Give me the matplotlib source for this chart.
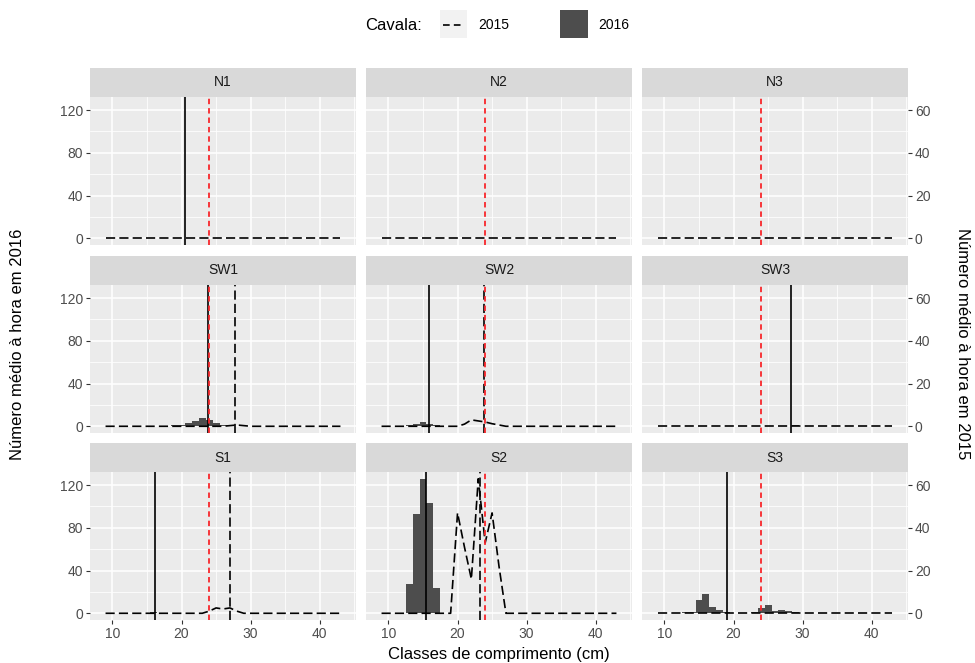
import numpy as np
import matplotlib.pyplot as plt
from matplotlib.patches import Rectangle
from matplotlib.lines import Line2D

plt.rcParams['font.family'] = ['Liberation Sans', 'DejaVu Sans']

# Length classes (cm)
classes = np.arange(9, 44)
panels = ["N1", "N2", "N3", "SW1", "SW2", "SW3", "S1", "S2", "S3"]

# Mean number per hour in 2016 by length class (only non-zero classes)
n1_2016 = {20: 0.4, 21: 0.4}
n2_2016 = {}
n3_2016 = {}
sw1_2016 = {18: 0.5, 19: 1, 20: 1.5, 21: 3, 22: 4.5, 23: 7.5, 24: 6, 25: 3, 26: 1.5, 27: 1, 28: 0.5}
sw2_2016 = {13: 1, 14: 2.5, 15: 4, 16: 2.5, 17: 1, 18: 0.5}
sw3_2016 = {28: 0.5, 29: 0.8, 30: 0.4}
s1_2016 = {15: 0.5, 16: 1.2, 17: 0.5}
s2_2016 = {13: 27, 14: 93, 15: 126, 16: 103, 17: 24}
s3_2016 = {12: 0.5, 13: 0.8, 14: 1, 15: 12.5, 16: 18, 17: 6, 18: 3, 19: 1, 20: 0.5,
           22: 0.5, 23: 0.8, 24: 5, 25: 7.5, 26: 2, 27: 3.5, 28: 2.5, 29: 1, 30: 0.5}

# Mean number per hour in 2015 by length class (right axis)
n1_2015 = {}
n2_2015 = {}
n3_2015 = {}
sw1_2015 = {27: 0.3, 28: 0.6, 29: 0.3}
sw2_2015 = {21: 1, 22: 3, 23: 2.5, 24: 2, 25: 1.2, 26: 0.6}
sw3_2015 = {}
s1_2015 = {24: 1, 25: 2.5, 26: 2, 27: 2.5, 28: 1}
s2_2015 = {20: 47, 21: 31, 22: 16, 23: 63, 24: 33, 25: 47, 26: 22}
s3_2015 = {}

# Mean length per panel (nan = no catch)
mean_2016 = [20.5, np.nan, np.nan, 23.8, 15.9, 28.3, 16.2, 15.5, 19.1]
mean_2015 = [np.nan, np.nan, np.nan, 27.8, 23.8, np.nan, 27.0, 23.2, np.nan]
min_size = 24  # minimum landing size

data_2016 = [n1_2016, n2_2016, n3_2016, sw1_2016, sw2_2016, sw3_2016, s1_2016, s2_2016, s3_2016]
data_2015 = [n1_2015, n2_2015, n3_2015, sw1_2015, sw2_2015, sw3_2015, s1_2015, s2_2015, s3_2015]

sec_scale = 2  # 2015 plotted on the left scale x2


def full(d):
    return np.array([d.get(c, 0.0) for c in classes], dtype=float)


y16 = [full(d) for d in data_2016]
y15 = [full(d) * sec_scale for d in data_2015]

ymax = max(max(v.max() for v in y16), max(v.max() for v in y15))
ylim = (-0.05 * ymax, 1.05 * ymax)
lo, hi = classes[0] - 0.5, classes[-1] + 0.5
span = hi - lo
xlim = (lo - 0.05 * span, hi + 0.05 * span)

W, H = 975, 663
fig = plt.figure(figsize=(W / 100, H / 100), dpi=100)

col_x = [90, 366, 642]
row_top = [97, 285, 472]
pw, ph, sh = 266, 148, 29

dash15 = (5.5, 2.5)
tick_col = '#4D4D4D'
for i, name in enumerate(panels):
    r, c = divmod(i, 3)
    ax = fig.add_axes([col_x[c] / W, 1 - (row_top[r] + ph) / H, pw / W, ph / H])
    ax.set_facecolor('#EBEBEB')
    for s in ax.spines.values():
        s.set_visible(False)
    ax.set_xlim(*xlim)
    ax.set_ylim(*ylim)
    ax.set_xticks([10, 20, 30, 40])
    ax.set_xticks([15, 25, 35, 45], minor=True)
    ax.set_yticks([0, 40, 80, 120])
    ax.set_yticks([20, 60, 100], minor=True)
    ax.grid(which='major', color='white', lw=1.1)
    ax.grid(which='minor', color='white', lw=0.55)
    ax.set_axisbelow(True)
    ax.tick_params(which='minor', length=0)
    ax.tick_params(which='major', length=3, width=0.8, color='#333333',
                   labelcolor=tick_col, labelsize=10, pad=2)
    if r < 2:
        ax.tick_params(axis='x', which='major', length=0, labelbottom=False)
    if c > 0:
        ax.tick_params(axis='y', which='major', length=0, labelleft=False)

    ax.bar(classes, y16[i], width=1.0, color='#4D4D4D', edgecolor='none', zorder=2)
    ax.plot(classes, y15[i], color='black', lw=1.2, dashes=dash15, zorder=3)
    if not np.isnan(mean_2016[i]):
        ax.axvline(mean_2016[i], color='black', lw=1.2, zorder=4)
    if not np.isnan(mean_2015[i]):
        ax.axvline(mean_2015[i], color='black', lw=1.2, dashes=dash15, zorder=4)
    ax.axvline(min_size, color='#F8262B', lw=1.3, dashes=(3, 2.2), zorder=5)

    # facet strip
    ax.add_patch(Rectangle((0, 1), 1, sh / ph, transform=ax.transAxes,
                           facecolor='#D9D9D9', edgecolor='none', clip_on=False))
    ax.text(0.5, 1 + sh / ph / 2, name, transform=ax.transAxes, ha='center',
            va='center', fontsize=10, color='#1A1A1A')

    if c == 2:
        sec = ax.secondary_yaxis('right', functions=(lambda v: v / sec_scale,
                                                      lambda v: v * sec_scale))
        sec.set_yticks([0, 20, 40, 60])
        sec.spines['right'].set_visible(False)
        sec.tick_params(length=3, width=0.8, color='#333333',
                        labelcolor=tick_col, labelsize=10, pad=2)

fig.text(499 / W, 1 - 655 / H, "Classes de comprimento (cm)", ha='center',
         va='center', fontsize=12)
fig.text(18 / W, 1 - 344 / H, "Número médio à hora em 2016", rotation=90,
         ha='center', va='center', fontsize=12)
fig.text(962 / W, 1 - 344 / H, "Número médio à hora em 2015", rotation=270,
         ha='center', va='center', fontsize=12)

# legend on top
fig.text(365 / W, 1 - 25 / H, "Cavala:", ha='left', va='center', fontsize=12)
fig.add_artist(Rectangle((440 / W, 1 - 38 / H), 27 / W, 28 / H,
                         transform=fig.transFigure, facecolor='#F2F2F2', edgecolor='none'))
fig.add_artist(Line2D([443 / W, 464 / W], [1 - 25 / H, 1 - 25 / H], color='black',
                      lw=1.2, dashes=(4, 2.5), transform=fig.transFigure))
fig.text(478 / W, 1 - 25 / H, "2015", ha='left', va='center', fontsize=10)
fig.add_artist(Rectangle((560 / W, 1 - 38 / H), 28 / W, 28 / H,
                         transform=fig.transFigure, facecolor='#4D4D4D', edgecolor='none'))
fig.text(598 / W, 1 - 25 / H, "2016", ha='left', va='center', fontsize=10)

fig.savefig("out.png", dpi=100)
